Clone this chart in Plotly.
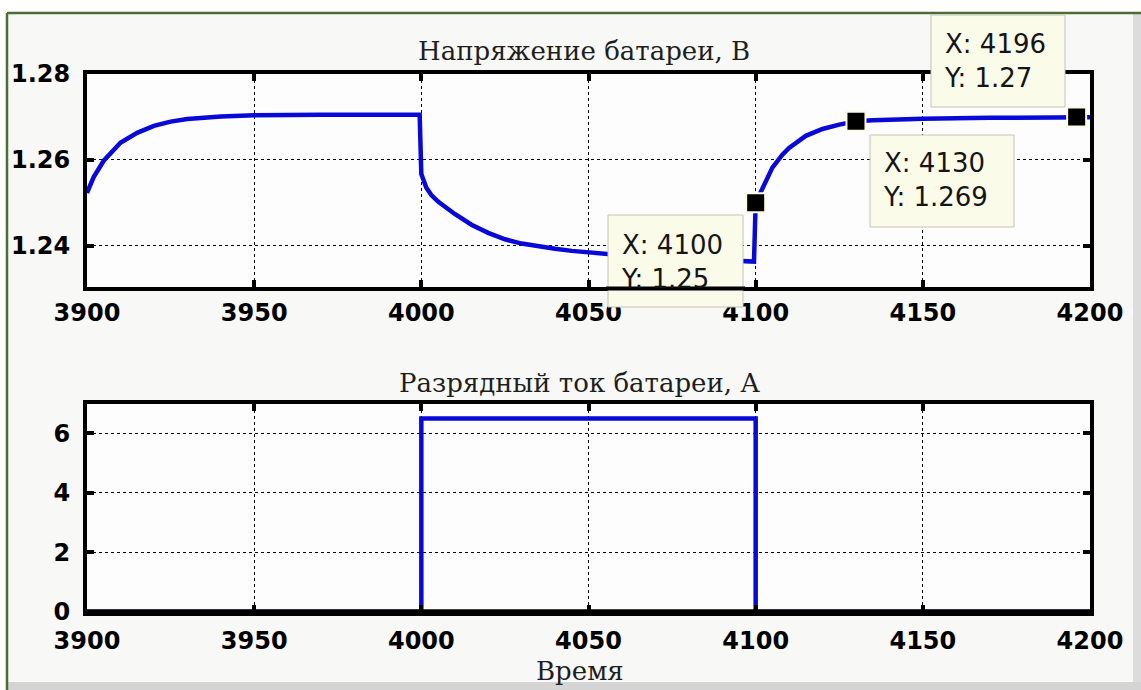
import plotly.graph_objects as go

# ---- data ----
t_voltage = [3900, 3902, 3905, 3908, 3910, 3915, 3920, 3925, 3930, 3940, 3950, 3970, 3999.5,
             4000, 4001.5, 4003, 4005, 4010, 4015, 4020, 4025, 4030, 4035, 4040, 4045, 4050,
             4055, 4060, 4070, 4080, 4090, 4099.5,
             4100, 4102, 4105, 4108, 4110, 4115, 4120, 4125, 4130, 4135, 4140, 4150, 4170,
             4196, 4200]
voltage = [1.2523, 1.2560, 1.2598, 1.2625, 1.2640, 1.2663, 1.2679, 1.2689, 1.2695, 1.2701,
           1.2704, 1.2705, 1.2705,
           1.2567, 1.2535, 1.2518, 1.2503, 1.2474, 1.2449, 1.2430, 1.2415, 1.2405, 1.2398,
           1.2393, 1.2388, 1.2384, 1.2381, 1.2378, 1.2373, 1.2369, 1.2366, 1.2363,
           1.2500, 1.2535, 1.2582, 1.2612, 1.2628, 1.2656, 1.2672, 1.2682, 1.2690, 1.2692,
           1.2694, 1.2696, 1.2698, 1.2699, 1.2699]

t_current = [3900, 4000, 4000, 4100, 4100, 4200]
current = [0, 0, 6.5, 6.5, 0, 0]

tip_x = [4100, 4130, 4196]
tip_y = [1.25, 1.269, 1.27]
tip_labels = ["X: 4100<br>Y: 1.25", "X: 4130<br>Y: 1.269", "X: 4196<br>Y: 1.27"]

x_ticks = [3900, 3950, 4000, 4050, 4100, 4150, 4200]
x_ticklabels = ["3900", "3950", "4000", "4050", "4100", "4150", "4200"]
v_ticks = [1.24, 1.26, 1.28]
v_ticklabels = ["1.24", "1.26", "1.28"]
i_ticks = [0, 2, 4, 6]
i_ticklabels = ["0", "2", "4", "6"]

title_top = "Напряжение батареи, В"
title_bottom = "Разрядный ток батареи, А"
x_title = "Время"

# ---- layout geometry (pixels) ----
W, H = 1141, 690
ML, MR, MT, MB = 87, 51, 74, 78
PW, PH = W - ML - MR, H - MT - MB


def PX(px):
    return (px - ML) / PW


def PY(py):
    return (H - MB - py) / PH


BLUE = "#0808d8"

fig = go.Figure()
fig.add_trace(go.Scatter(x=t_voltage, y=voltage, mode="lines",
                         line=dict(color=BLUE, width=4.5), xaxis="x", yaxis="y",
                         showlegend=False, hoverinfo="skip"))
fig.add_trace(go.Scatter(x=tip_x, y=tip_y, mode="markers",
                         marker=dict(symbol="square", size=19, color="black",
                                     line=dict(color="#fbfbe8", width=2)),
                         xaxis="x", yaxis="y", showlegend=False, hoverinfo="skip"))
fig.add_trace(go.Scatter(x=t_current, y=current, mode="lines",
                         line=dict(color=BLUE, width=4.5), xaxis="x2", yaxis="y2",
                         showlegend=False, hoverinfo="skip"))

tickfont = dict(family="DejaVu Sans", size=24, color="black", weight="bold")
axis_common = dict(showline=True, linecolor="black", linewidth=4, mirror="ticks",
                   ticks="inside", ticklen=7, tickwidth=4, tickcolor="black",
                   showgrid=True, gridcolor="black", gridwidth=1.4, griddash="dot",
                   zeroline=False, tickfont=tickfont, layer="above traces")

top_bottom_px = 286.5
bot_top_px = 403.5

fig.update_layout(
    width=W, height=H,
    margin=dict(l=ML, r=MR, t=MT, b=MB, pad=0),
    paper_bgcolor="#f8f8f6",
    plot_bgcolor="#fdfdfd",
    xaxis=dict(domain=[0, 1], range=[3900, 4200], anchor="y",
               tickvals=x_ticks, ticktext=x_ticklabels, ticklabelstandoff=2, **axis_common),
    yaxis=dict(domain=[PY(top_bottom_px), 1], range=[1.2305, 1.28], anchor="x",
               tickvals=v_ticks, ticktext=v_ticklabels, ticklabelstandoff=8, **axis_common),
    xaxis2=dict(domain=[0, 1], range=[3900, 4200], anchor="y2",
                tickvals=x_ticks, ticktext=x_ticklabels, ticklabelstandoff=4, **axis_common),
    yaxis2=dict(domain=[0, PY(bot_top_px)], range=[0, 7], anchor="x2",
                tickvals=i_ticks, ticktext=i_ticklabels, ticklabelstandoff=8, **axis_common),
)

shapes = []
# page frame
shapes.append(dict(type="rect", xref="paper", yref="paper", x0=PX(0), x1=PX(W), y0=PY(0), y1=PY(12),
                   fillcolor="white", line=dict(width=0), layer="below"))
shapes.append(dict(type="rect", xref="paper", yref="paper", x0=PX(0), x1=PX(6), y0=PY(0), y1=PY(H),
                   fillcolor="white", line=dict(width=0), layer="below"))
shapes.append(dict(type="rect", xref="paper", yref="paper", x0=PX(1133), x1=PX(W), y0=PY(13), y1=PY(H),
                   fillcolor="#dcdcdc", line=dict(width=0), layer="below"))
shapes.append(dict(type="rect", xref="paper", yref="paper", x0=PX(7), x1=PX(W), y0=PY(682), y1=PY(H),
                   fillcolor="#d4d4d4", line=dict(width=0), layer="below"))
shapes.append(dict(type="line", xref="paper", yref="paper", x0=PX(7), x1=PX(W), y0=PY(13), y1=PY(13),
                   line=dict(color="#4b6d36", width=2.5), layer="below"))
shapes.append(dict(type="line", xref="paper", yref="paper", x0=PX(7), x1=PX(7), y0=PY(13), y1=PY(H),
                   line=dict(color="#4b6d36", width=2.5), layer="below"))

# cover the zero-current line on the bottom axis
shapes.append(dict(type="line", xref="paper", yref="paper", x0=PX(ML - 4), x1=PX(W - MR + 4),
                   y0=PY(612), y1=PY(612), line=dict(color="black", width=5.5), layer="above"))

# datatip boxes
boxes = [(608, 743, 215, 307), (870, 1014, 135, 227), (931, 1065, 15, 107)]
for (x0, x1, y0, y1) in boxes:
    shapes.append(dict(type="rect", xref="paper", yref="paper", x0=PX(x0), x1=PX(x1),
                       y0=PY(y1), y1=PY(y0), fillcolor="#fbfbe9",
                       line=dict(color="#c4c4b8", width=1), layer="above"))
# axis line redrawn over first datatip box
shapes.append(dict(type="line", xref="paper", yref="paper", x0=PX(606), x1=PX(745),
                   y0=PY(top_bottom_px + 2), y1=PY(top_bottom_px + 2),
                   line=dict(color="black", width=4), layer="above"))
fig.update_layout(shapes=shapes)

annotations = []
text_pos = [(619, 262), (881, 180), (942, 61)]
for (tx, ty), lab in zip(text_pos, tip_labels):
    annotations.append(dict(xref="paper", yref="paper", x=PX(tx), y=PY(ty), text=lab,
                            showarrow=False, xanchor="left", yanchor="middle", align="left",
                            font=dict(family="DejaVu Sans", size=26, color="#151515")))
serif = dict(family="DejaVu Serif", size=26, color="#1e1e1e")
annotations.append(dict(xref="paper", yref="paper", x=PX(584), y=PY(51), text=title_top,
                        showarrow=False, xanchor="center", yanchor="middle", font=serif))
annotations.append(dict(xref="paper", yref="paper", x=PX(579), y=PY(383), text=title_bottom,
                        showarrow=False, xanchor="center", yanchor="middle", font=serif))
annotations.append(dict(xref="paper", yref="paper", x=PX(580), y=PY(671), text=x_title,
                        showarrow=False, xanchor="center", yanchor="middle", font=serif))
fig.update_layout(annotations=annotations)

fig.write_html("out.html")
